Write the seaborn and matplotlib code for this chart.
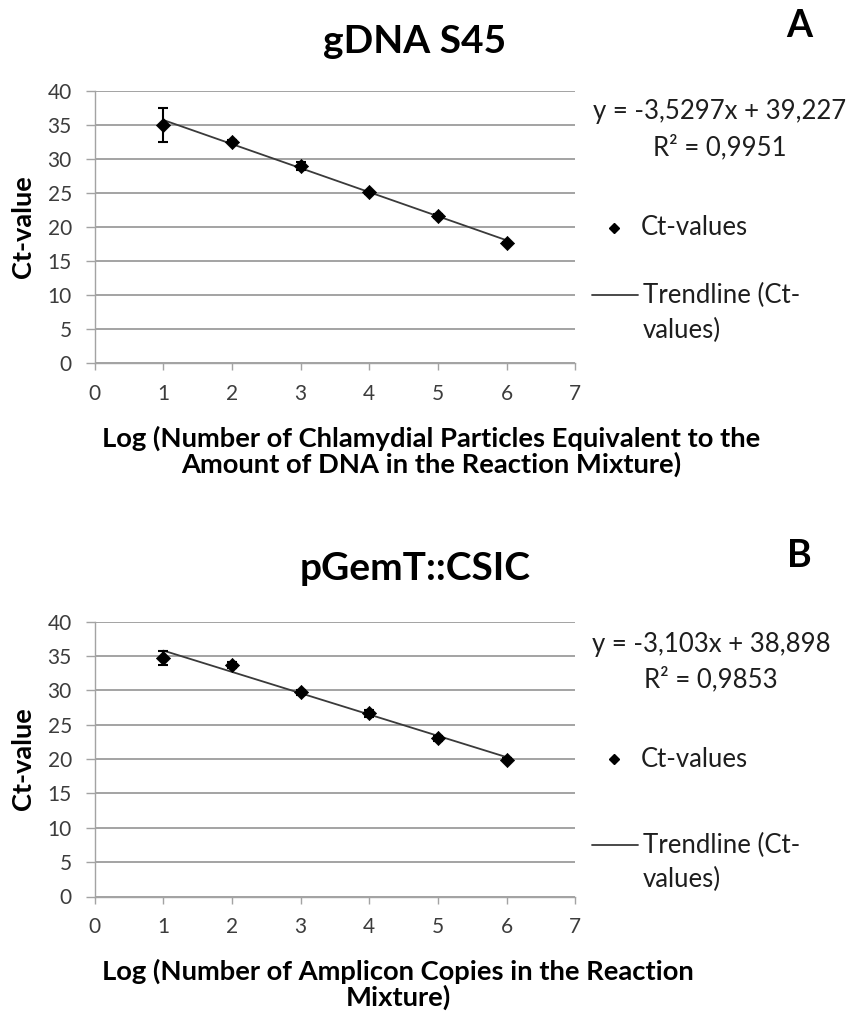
import numpy as np
import pandas as pd
import matplotlib
matplotlib.use("Agg")
import matplotlib.pyplot as plt
from matplotlib.lines import Line2D
import seaborn as sns

# ---------------- data ----------------
log_copies = [1, 2, 3, 4, 5, 6]
ct_gdna = [35.0, 32.5, 28.9, 25.1, 21.65, 17.65]
err_gdna = [2.5, 0.2, 0.6, 0.2, 0.3, 0.2]
ct_pgem = [34.7, 33.7, 29.7, 26.7, 23.0, 19.9]
err_pgem = [1.05, 0.4, 0.4, 0.5, 0.4, 0.2]
slopes = [-3.5297, -3.103]
intercepts = [39.227, 38.898]
eq_labels = ["y = -3,5297x + 39,227", "y = -3,103x + 38,898"]
r2_labels = ["R\u00b2 = 0,9951", "R\u00b2 = 0,9853"]
titles = ["gDNA S45", "pGemT::CSIC"]
panel_letters = ["A", "B"]
xlabel_lines = [
    ["Log (Number of Chlamydial Particles Equivalent to the",
     "Amount of DNA in the Reaction Mixture)"],
    ["Log (Number of Amplicon Copies in the Reaction", "Mixture)"],
]
ylabel = "Ct-value"
legend_points = "Ct-values"
legend_trend = ["Trendline (Ct-", "values)"]
x_ticks = [0, 1, 2, 3, 4, 5, 6, 7]
y_ticks = [0, 5, 10, 15, 20, 25, 30, 35, 40]

# ---------------- style ----------------
sns.set_theme(style="white")
plt.rcParams["font.family"] = ["Lato", "DejaVu Sans"]

W, H = 852, 1018
fig = plt.figure(figsize=(W / 100, H / 100), dpi=100)


def fx(px):
    return px / W


def fy(py):
    return 1 - py / H


GRID = "#a3a3a3"
TXT = "#1e1e1e"
TICK_TXT = "#3c3c3c"

panels = [
    dict(top=90.7, bottom=363.3, title_base=53, letter_base=37,
         eq_base=119, r2_base=155, pt_y=228, pt_base=235,
         tr_y=295, tr_base=303, tr2_base=338,
         xl_x=431, xl_base=[447, 473], eq_x=720),
    dict(top=621.7, bottom=896.5, title_base=580, letter_base=567,
         eq_base=652, r2_base=687, pt_y=759, pt_base=767,
         tr_y=845, tr_base=853, tr2_base=887,
         xl_x=398, xl_base=[980, 1006], eq_x=711),
]
left_px, right_px = 94.7, 575.3

series = [(ct_gdna, err_gdna), (ct_pgem, err_pgem)]

for i, p in enumerate(panels):
    ax = fig.add_axes([fx(left_px), fy(p["bottom"]),
                       (right_px - left_px) / W, (p["bottom"] - p["top"]) / H])
    ct, err = series[i]
    df = pd.DataFrame({"x": log_copies, "ct": ct, "err": err})
    xs = np.array([min(log_copies), max(log_copies)], dtype=float)
    trend = pd.DataFrame({"x": xs, "y": slopes[i] * xs + intercepts[i]})

    sns.lineplot(data=trend, x="x", y="y", ax=ax, color="#3a3a3a",
                 linewidth=1.3, zorder=2)
    ax.errorbar(df["x"], df["ct"], yerr=df["err"], fmt="none",
                ecolor="black", elinewidth=1.5, capsize=3.8, capthick=1.5,
                zorder=3)
    sns.scatterplot(data=df, x="x", y="ct", ax=ax, marker="D", s=52,
                    color="black", edgecolor="black", linewidth=0.5,
                    zorder=4)

    ax.set_xlim(0, 7)
    ax.set_ylim(0, 40)
    ax.set_xticks(x_ticks)
    ax.set_yticks(y_ticks)
    ax.set_xlabel("")
    ax.set_ylabel("")
    ax.yaxis.grid(True, color=GRID, linewidth=1.4)
    ax.xaxis.grid(False)
    ax.set_axisbelow(True)
    for s in ["top", "right"]:
        ax.spines[s].set_visible(False)
    for s in ["left", "bottom"]:
        ax.spines[s].set_color(GRID)
        ax.spines[s].set_linewidth(1.0)
    ax.tick_params(axis="y", left=True, length=6.5, width=1.0, color=GRID,
                   direction="out", pad=10, labelsize=15,
                   labelcolor=TICK_TXT)
    ax.tick_params(axis="x", bottom=True, length=5, width=1.0, color=GRID,
                   direction="out", pad=10, labelsize=15,
                   labelcolor=TICK_TXT)

    fig.text(fx(415), fy(p["title_base"]), titles[i], ha="center",
             va="baseline", fontsize=28, fontweight="bold", color="black")
    fig.text(fx(799), fy(p["letter_base"]), panel_letters[i], ha="center",
             va="baseline", fontsize=27, fontweight="bold", color="black")

    fig.text(fx(23), fy((p["top"] + p["bottom"]) / 2), ylabel, rotation=90,
             ha="center", va="center", fontsize=19.5, fontweight="bold",
             color="black")
    for line, base in zip(xlabel_lines[i], p["xl_base"]):
        fig.text(fx(p["xl_x"]), fy(base), line, ha="center", va="baseline",
                 fontsize=19.7, fontweight="bold", color="black")

    fig.text(fx(p["eq_x"]), fy(p["eq_base"]), eq_labels[i], ha="center",
             va="baseline", fontsize=18.5, color=TXT)
    fig.text(fx(p["eq_x"]), fy(p["r2_base"]), r2_labels[i], ha="center",
             va="baseline", fontsize=18.5, color=TXT)

    fig.add_artist(Line2D([fx(614)], [fy(p["pt_y"])], marker="D",
                          markersize=5, color="black", linestyle="none",
                          transform=fig.transFigure))
    fig.text(fx(641), fy(p["pt_base"]), legend_points, ha="left",
             va="baseline", fontsize=18.5, color=TXT)
    fig.add_artist(Line2D([fx(592), fx(638)], [fy(p["tr_y"])] * 2,
                          color="#3a3a3a", linewidth=1.3,
                          transform=fig.transFigure))
    fig.text(fx(643), fy(p["tr_base"]), legend_trend[0], ha="left",
             va="baseline", fontsize=18.5, color=TXT)
    fig.text(fx(643), fy(p["tr2_base"]), legend_trend[1], ha="left",
             va="baseline", fontsize=18.5, color=TXT)

fig.savefig("out.png", dpi=100)
